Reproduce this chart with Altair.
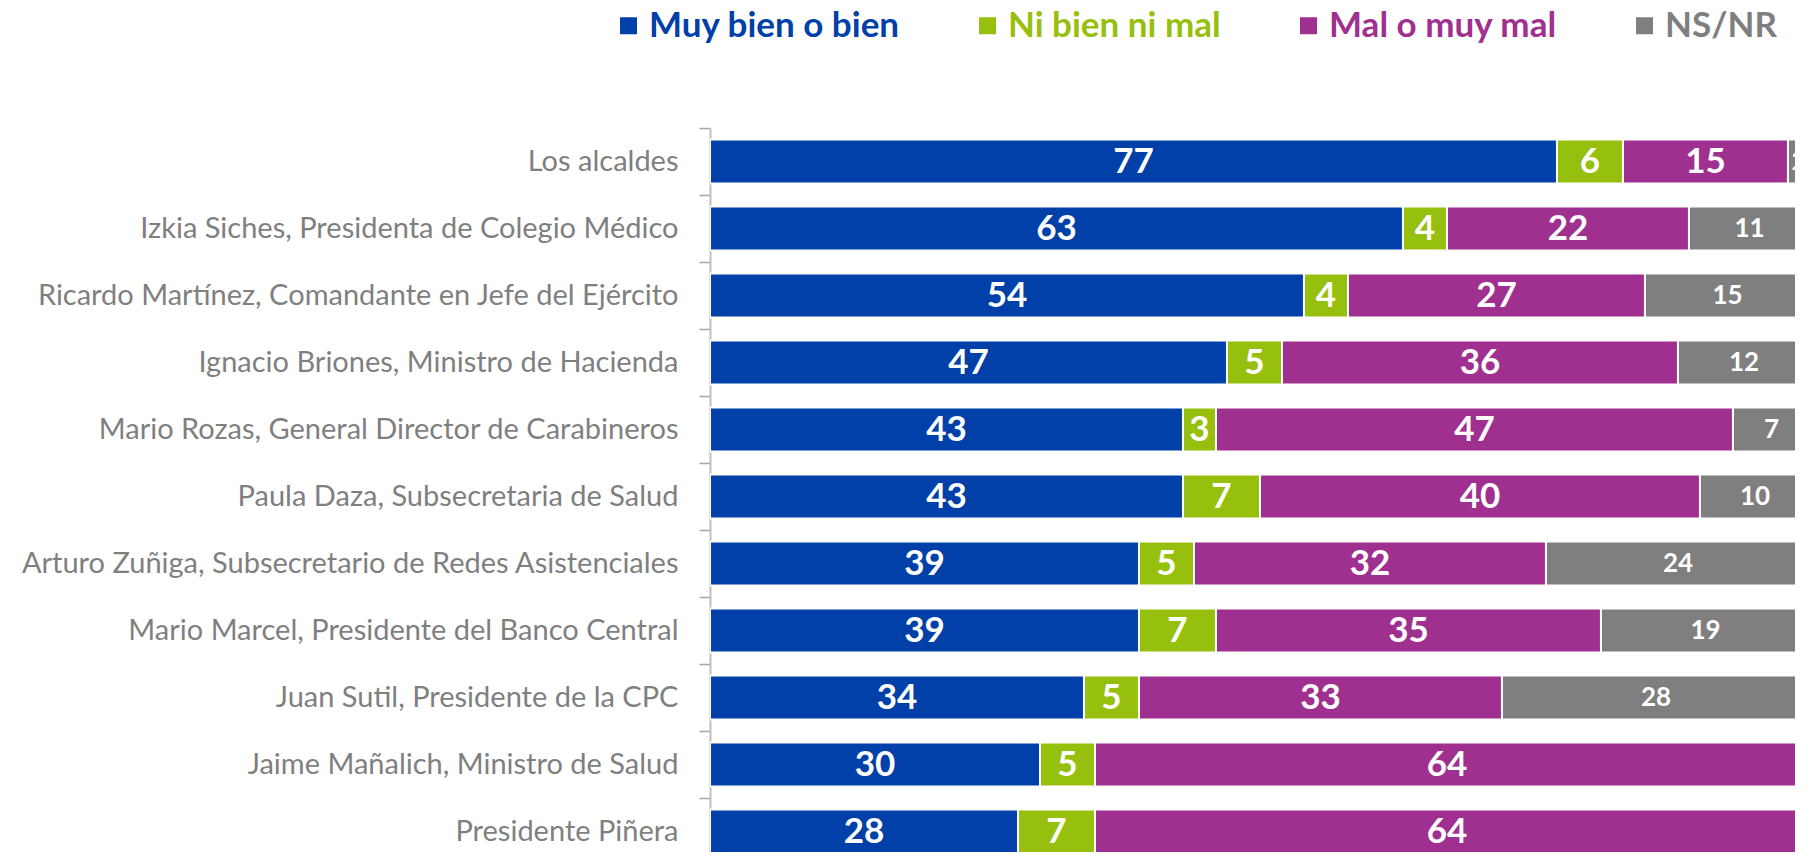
import altair as alt
import pandas as pd

names = [
    "Los alcaldes",
    "Izkia Siches, Presidenta de Colegio Médico\u00a0",
    "Ricardo Martínez, Comandante en Jefe del Ejército",
    "Ignacio Briones, Ministro de Hacienda",
    "Mario Rozas, General Director de Carabineros",
    "Paula Daza, Subsecretaria de Salud",
    "Arturo Zuñiga, Subsecretario de Redes Asistenciales",
    "Mario Marcel, Presidente del Banco Central",
    "Juan Sutil, Presidente de la CPC",
    "Jaime Mañalich, Ministro de Salud",
    "Presidente Piñera",
]
muy_bien = [77, 63, 54, 47, 43, 43, 39, 39, 34, 30, 28]
ni_bien = [6, 4, 4, 5, 3, 7, 5, 7, 5, 5, 7]
mal = [15, 22, 27, 36, 47, 40, 32, 35, 33, 64, 64]
nsnr = [2, 11, 15, 12, 7, 10, 24, 19, 28, 1, 1]
cats = ["Muy bien o bien", "Ni bien ni mal", "Mal o muy mal", "NS/NR"]
colors = ["#0040A8", "#97BF0D", "#A0308F", "#7F7F7F"]

rows = []
for i, n in enumerate(names):
    for k, (c, vals) in enumerate(zip(cats, [muy_bien, ni_bien, mal, nsnr])):
        rows.append({"name": n, "cat": c, "k": k, "val": vals[i]})
df = pd.DataFrame(rows)

FONT = "Lato"

base = alt.Chart(df).transform_stack(
    stack="val", groupby=["name"], as_=["x0", "x1"], sort=[alt.SortField("k")]
).transform_calculate(xm="(datum.x0 + datum.x1) / 2")

xs = alt.Scale(domain=[0, 98.64], nice=False, zero=True)
ys = alt.Scale(domain=names, range=[0, 737], paddingInner=0, paddingOuter=0)
yaxis = alt.Axis(
    title=None, tickBand="extent", tickSize=11, tickColor="#A6A6A6", tickWidth=1.5,
    domainColor="#BFBFBF", domainWidth=2, labelPadding=21, labelFont=FONT,
    labelFontSize=29, labelColor="#7F7F7F", labelLimit=0,
)

bars = base.mark_bar(height={"band": 0.657}, stroke="white", strokeWidth=2, clip=True).encode(
    x=alt.X("x0:Q", scale=xs, axis=None),
    x2="x1:Q",
    y=alt.Y("name:N", scale=ys, axis=yaxis),
    color=alt.Color(
        "cat:N",
        scale=alt.Scale(domain=cats, range=colors),
        legend=alt.Legend(
            title=None, orient="none", legendX=-99, legendY=-120, direction="horizontal",
            columns=4, symbolType="square", symbolSize=289, symbolStrokeWidth=0,
            labelFont=FONT, labelFontSize=35, labelFontWeight="bold",
            labelColor=alt.ExprRef("scale('color', datum.value)"),
            labelOffset=3, columnPadding=70, labelLimit=0, padding=0,
        ),
    ),
)

text = base.mark_text(color="white", fontWeight="bold", font=FONT, clip=True, baseline="middle").encode(
    x=alt.X("xm:Q", scale=xs, axis=None),
    y=alt.Y("name:N", scale=ys, axis=yaxis),
    text="val:Q",
    size=alt.condition("datum.cat == 'NS/NR'", alt.value(26), alt.value(35)),
)

chart = alt.layer(bars, text).properties(
    width=1085, height=724,
    autosize=alt.AutoSizeParams(type="none"),
    padding={"left": 702, "top": 120, "right": 0, "bottom": 0},
).configure_view(stroke=None)

chart.save("out.html", embed_options={"renderer": "svg", "actions": False})
